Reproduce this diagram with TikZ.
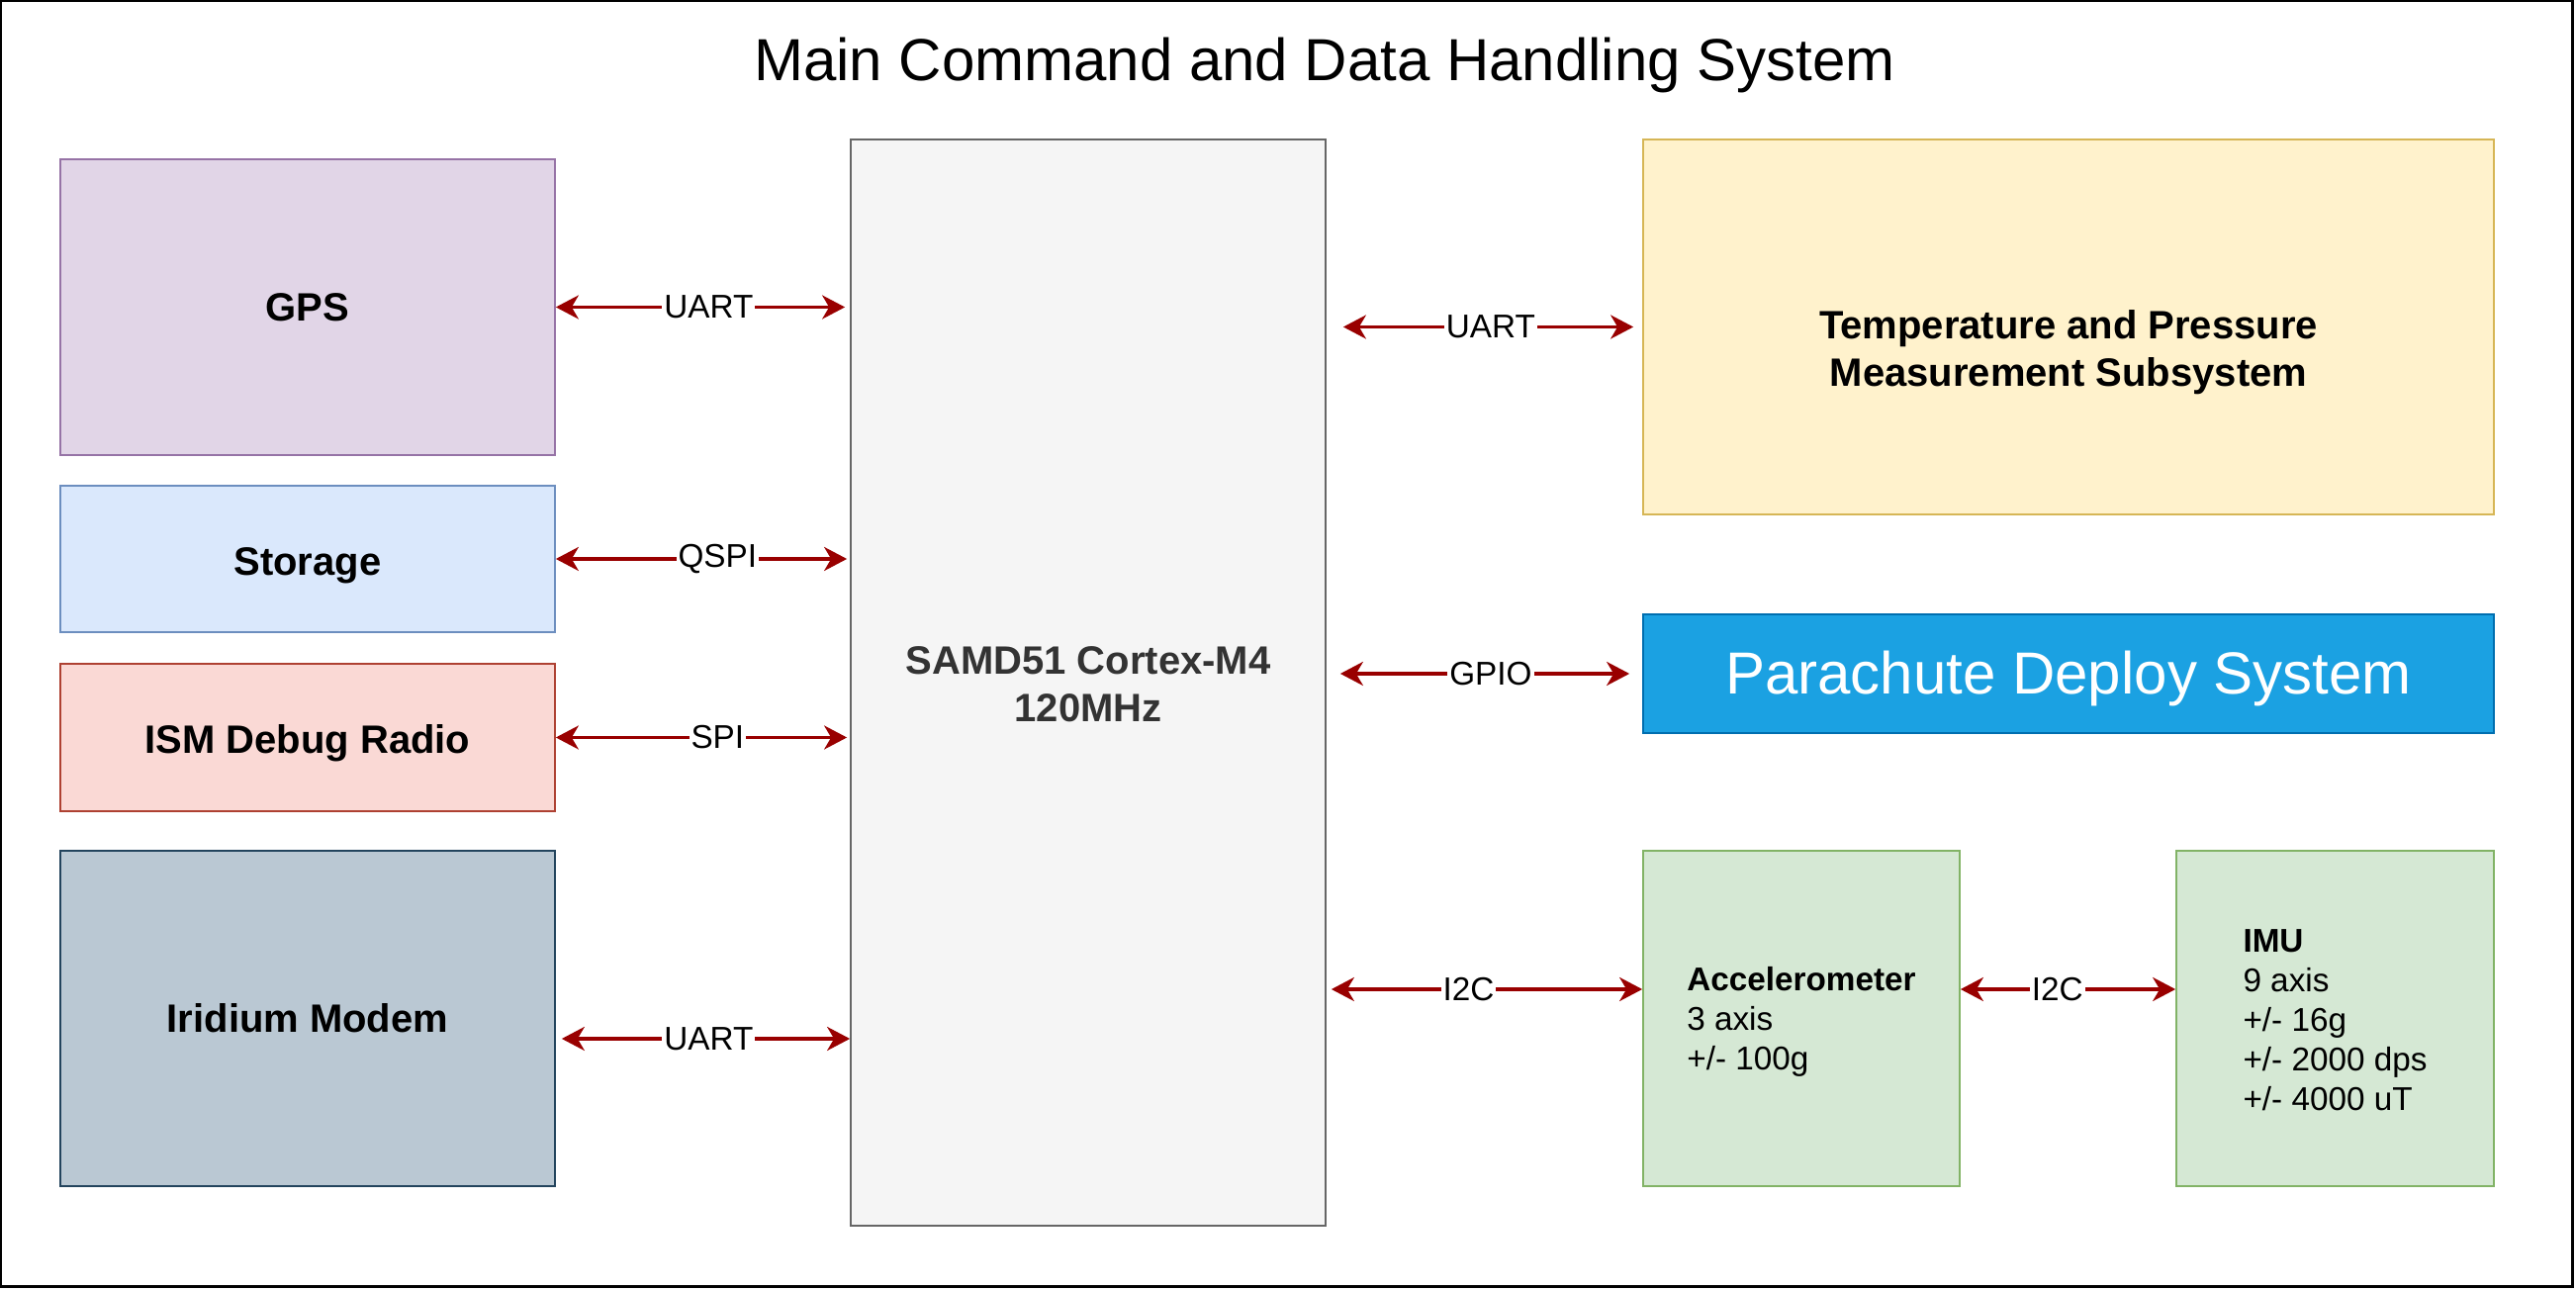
\documentclass[tikz,border=0pt]{standalone}
\usepackage{fontspec}
\setmainfont{Liberation Sans}
\usetikzlibrary{arrows.meta}

\definecolor{gpsfill}{HTML}{E1D5E7}   \definecolor{gpsline}{HTML}{9673A6}
\definecolor{memfill}{HTML}{DAE8FC}   \definecolor{memline}{HTML}{6C8EBF}
\definecolor{ismfill}{HTML}{FAD9D5}   \definecolor{ismline}{HTML}{AE4132}
\definecolor{irdfill}{HTML}{BAC8D3}   \definecolor{irdline}{HTML}{23445D}
\definecolor{mcufill}{HTML}{F5F5F5}   \definecolor{mculine}{HTML}{666666}
\definecolor{mcutext}{HTML}{333333}
\definecolor{tpmfill}{HTML}{FFF2CC}   \definecolor{tpmline}{HTML}{D6B656}
\definecolor{pdsfill}{HTML}{1BA1E2}   \definecolor{pdsline}{HTML}{006EAF}
\definecolor{senfill}{HTML}{D5E8D4}   \definecolor{senline}{HTML}{82B366}
\definecolor{buscol}{HTML}{990000}

\newcommand{\fsTitle}{\fontsize{60}{72}\selectfont}
\newcommand{\fsBox}{\fontsize{40}{48}\selectfont}
\newcommand{\fsTag}{\fontsize{33.3}{40}\selectfont}

\tikzset{
    block/.style={draw, line width=1.7pt, inner sep=0pt, align=center, font=\fsBox\bfseries},
    link/.style={draw=buscol, line width=3.3pt,
        {Stealth[length=23pt, width=24pt, inset=7pt]}-{Stealth[length=23pt, width=24pt, inset=7pt]}},
    tag/.style={fill=white, inner sep=2pt, font=\fsTag, text=black}
}

\begin{document}
\begin{tikzpicture}[x=1pt, y=1pt]
    \useasboundingbox (0,0) rectangle (2604,1304);
    \draw[line width=2.5pt] (1,3.5) rectangle (2600.5,1303);
    \node (title) at (1339,1238) {\fsTitle Main Command and Data Handling System};

    % left column
    \node[block, fill=gpsfill, draw=gpsline, minimum width=500pt, minimum height=299pt] (gps) at (311,993.5) {GPS};
    \node[block, fill=memfill, draw=memline, text height=41pt, text depth=8.5pt, minimum width=500pt, minimum height=148pt] (storage) at (311,739) {Storage};
    \node[block, fill=ismfill, draw=ismline, text height=41pt, text depth=8.5pt, minimum width=500pt, minimum height=149pt] (radio) at (311,558.5) {ISM Debug Radio};
    \node[block, fill=irdfill, draw=irdline, minimum width=500pt, minimum height=339pt] (iridium) at (311,274.5) {Iridium Modem};

    % processor
    \node[block, fill=mcufill, draw=mculine, text=mcutext, minimum width=480pt, minimum height=1098pt] (mcu) at (1100,614) {};
    \node[font=\fsBox\bfseries, text=mcutext, align=center] (mcutxt) at (1100,612) {SAMD51 Cortex-M4\\120MHz};

    % right column
    \node[block, fill=tpmfill, draw=tpmline, minimum width=860pt, minimum height=379pt] (tpm) at (2091,973.5) {};
    \node[font=\fsBox\bfseries, align=center] (tpmtxt) at (2091,948) {Temperature and Pressure\\Measurement Subsystem};
    \node[block, fill=pdsfill, draw=pdsline, text=white, font=\fsTitle, text height=53.5pt, text depth=12.5pt, minimum width=860pt, minimum height=120pt] (chute) at (2091,623) {Parachute Deploy System};
    \node[block, fill=senfill, draw=senline, minimum width=320pt, minimum height=339pt] (accel) at (1821,274.5) {};
    \node[font=\fsTag, align=left] (acceltxt) at ([yshift=-3pt]accel.center) {\textbf{Accelerometer}\\3 axis\\+/- 100g};
    \node[block, fill=senfill, draw=senline, minimum width=321pt, minimum height=339pt] (imu) at (2360.5,274.5) {};
    \node[font=\fsTag, align=left] (imutxt) at ([yshift=-2pt]imu.center) {\textbf{IMU}\\9 axis\\+/- 16g\\+/- 2000 dps\\+/- 4000 uT};

    % buses
    \draw[link, shorten >=5pt] (gps.east) -- (gps.east -| mcu.west) node[tag, pos=.52] {UART};
    \draw[link, shorten >=3pt] (storage.east) -- (storage.east -| mcu.west) node[tag, pos=.55] {QSPI};
    \draw[link, shorten >=3pt] (radio.east) -- (radio.east -| mcu.west) node[tag, pos=.55] {SPI};
    \coordinate (irdport) at ([yshift=-20.5pt]iridium.east);
    \draw[link, shorten <=6pt] (irdport) -- (irdport -| mcu.west) node[tag, pos=.52] {UART};
    \draw[link, shorten <=17pt, shorten >=9pt] (tpm.west -| mcu.east) -- (tpm.west) node[tag, pos=.52] {UART};
    \draw[link, shorten <=14pt, shorten >=13pt] (chute.west -| mcu.east) -- (chute.west) node[tag, pos=.52] {GPIO};
    \coordinate (accport) at ([yshift=29.5pt]accel.west);
    \draw[link, shorten <=5pt] (accport -| mcu.east) -- (accport) node[tag, pos=.45] {I2C};
    \draw[link] (accport -| accel.east) -- (accport -| imu.west) node[tag, pos=.45] {I2C};
\end{tikzpicture}
\end{document}
